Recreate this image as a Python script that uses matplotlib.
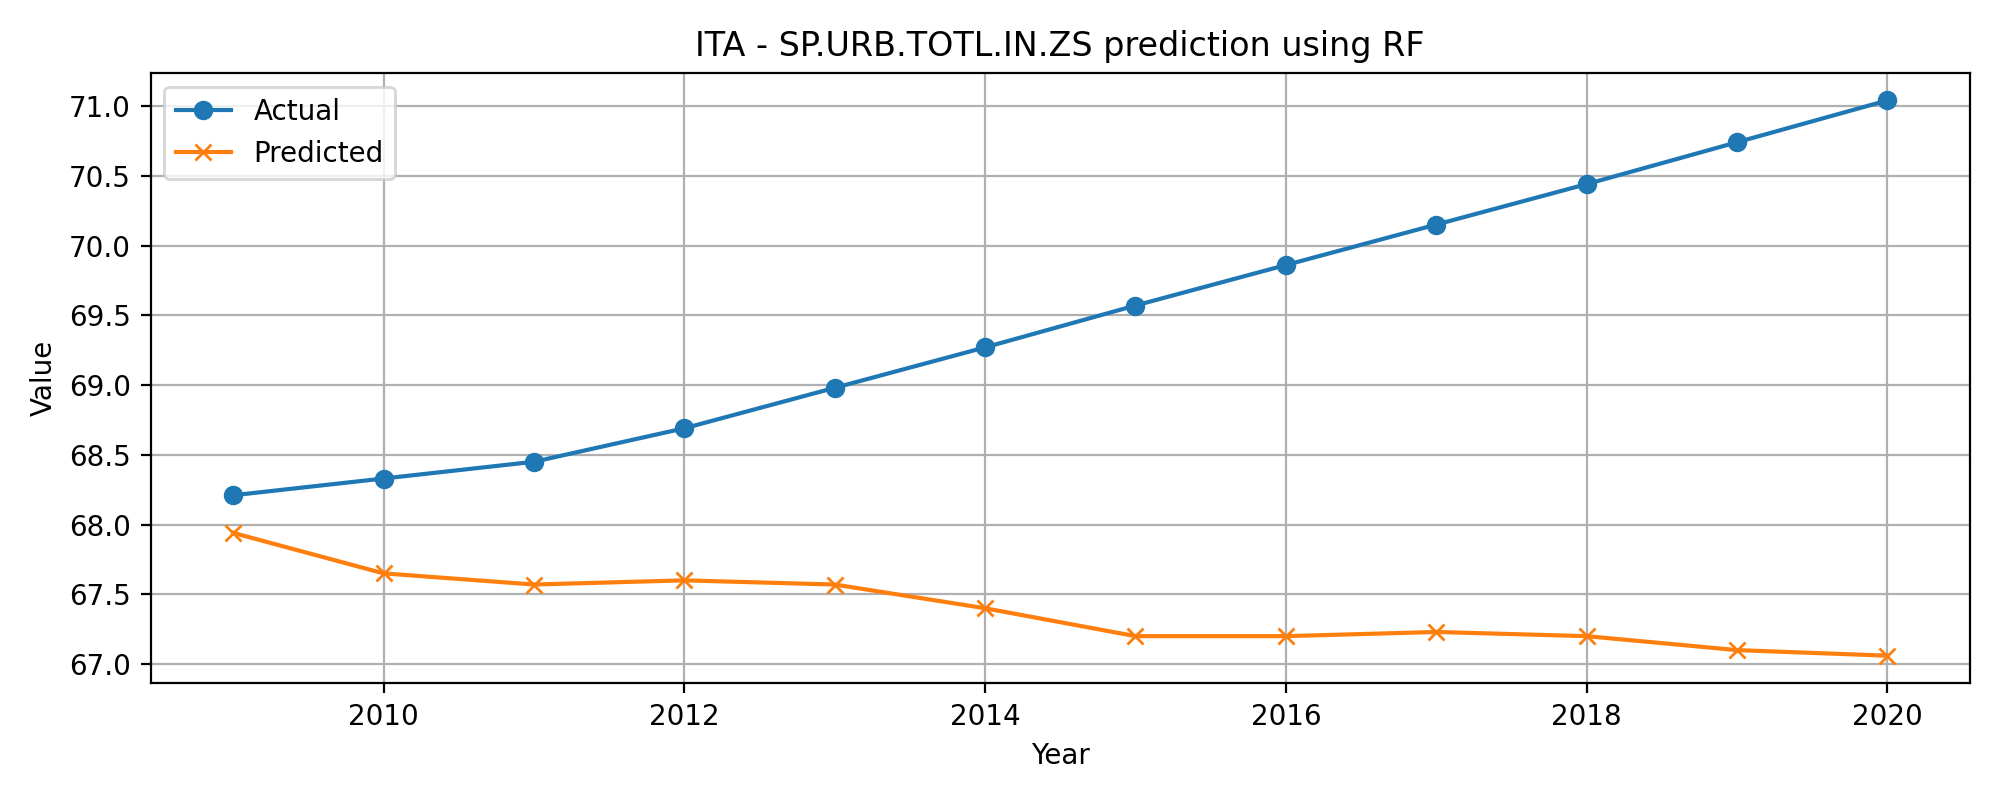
import matplotlib
matplotlib.use('Agg')
import matplotlib.pyplot as plt

years = [2009, 2010, 2011, 2012, 2013, 2014, 2015, 2016, 2017, 2018, 2019, 2020]
actual = [68.21, 68.33, 68.45, 68.69, 68.98, 69.27, 69.57, 69.86, 70.15, 70.44, 70.74, 71.04]
predicted = [67.94, 67.65, 67.57, 67.60, 67.57, 67.40, 67.20, 67.20, 67.23, 67.20, 67.10, 67.06]

plt.figure(figsize=(10, 4), dpi=200)
plt.plot(years, actual, marker='o', label='Actual')
plt.plot(years, predicted, marker='x', label='Predicted')
plt.title('ITA - SP.URB.TOTL.IN.ZS prediction using RF')
plt.xlabel('Year')
plt.ylabel('Value')
plt.legend()
plt.grid(True)
plt.tight_layout()
plt.savefig('out.png')
